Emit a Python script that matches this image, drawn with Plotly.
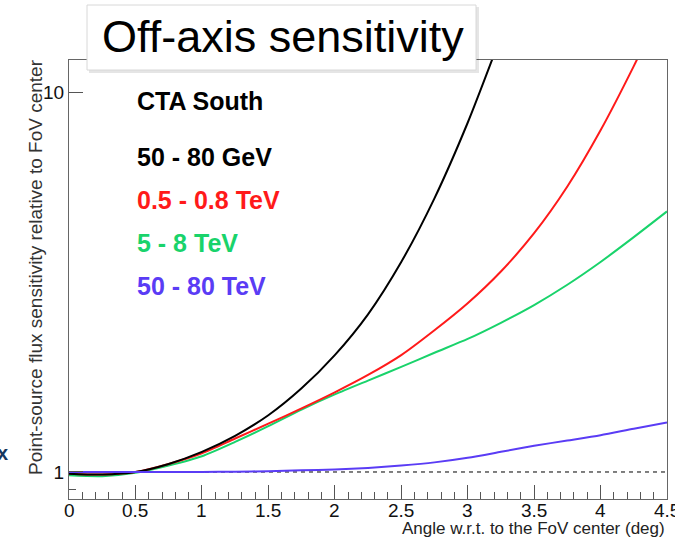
import plotly.graph_objects as go
import math

# ---- data ----
angle = [0.0, 0.25, 0.5, 0.75, 1.0, 1.25, 1.5, 1.75, 2.0, 2.25, 2.5, 2.75, 3.0, 3.25, 3.5, 3.75, 4.0, 4.25, 4.5]

sens_50_80_gev = [0.99, 0.985, 1.0, 1.05, 1.13, 1.245, 1.41, 1.66, 2.03, 2.6, 3.57, 5.25, 8.3, 14.0]
sens_05_08_tev = [0.99, 0.985, 1.0, 1.05, 1.12, 1.225, 1.34, 1.47, 1.62, 1.80, 2.03, 2.36, 2.78, 3.37, 4.25, 5.64, 7.93, 11.7, 17.8]
sens_5_8_tev = [0.98, 0.975, 0.995, 1.04, 1.10, 1.20, 1.32, 1.46, 1.60, 1.74, 1.89, 2.06, 2.24, 2.47, 2.75, 3.11, 3.57, 4.15, 4.85]
sens_50_80_tev = [1.0, 1.0, 1.0, 1.0, 1.0, 1.002, 1.005, 1.01, 1.015, 1.025, 1.04, 1.06, 1.09, 1.13, 1.172, 1.21, 1.25, 1.30, 1.35]

series_names = ["50 - 80 GeV", "0.5 - 0.8 TeV", "5 - 8 TeV", "50 - 80 TeV"]
series_colors = ["#000000", "#ff1a1a", "#19d36b", "#5a3cf5"]

x_ticks = [0, 0.5, 1, 1.5, 2, 2.5, 3, 3.5, 4, 4.5]
x_tick_text = ["0", "0.5", "1", "1.5", "2", "2.5", "3", "3.5", "4", "4.5"]
y_ticks = [1, 10]
y_tick_text = ["1", "10"]

FONT = "Liberation Sans, Arial, Helvetica, sans-serif"

# ---- geometry helpers (pixel -> paper) ----
L, R, T, B = 69, 667, 60, 499
W, H = 675, 538
def px(xp):
    return (xp - L) / (R - L)
def py(yp):
    return (B - yp) / (B - T)

fig = go.Figure()

series = [sens_50_80_gev, sens_05_08_tev, sens_5_8_tev, sens_50_80_tev]
order = [2, 1, 0, 3]
for i in order:
    vals = series[i]
    fig.add_trace(go.Scatter(
        x=angle[:len(vals)], y=vals, mode="lines", name=series_names[i],
        line=dict(color=series_colors[i], width=2, shape="spline", smoothing=0.7),
        showlegend=False, hoverinfo="x+y"))

# reference line at 1
fig.add_shape(type="line", xref="x", yref="y", x0=0, x1=4.5, y0=1, y1=1,
              line=dict(color="#000000", width=1, dash="4px,4px"), layer="below")

# title box with shadow
fig.add_shape(type="rect", xref="paper", yref="paper",
              x0=px(89), x1=px(479), y0=py(73), y1=py(7),
              fillcolor="rgba(0,0,0,0.10)", line=dict(width=0), layer="above")
fig.add_shape(type="rect", xref="paper", yref="paper",
              x0=px(87), x1=px(476), y0=py(70), y1=py(5),
              fillcolor="white", line=dict(color="#d8d8d8", width=1), layer="above")

annotations = [
    dict(text="Off-axis sensitivity", x=px(283), y=py(37), xanchor="center", yanchor="middle",
         font=dict(family=FONT, size=45, color="#000000"), showarrow=False),
    dict(text="<b>CTA South</b>", x=px(135), y=py(101), xanchor="left", yanchor="middle",
         font=dict(family=FONT, size=25, color="#000000"), showarrow=False),
]
legend_y = [157, 200, 243, 286]
for name, col, yy in zip(series_names, series_colors, legend_y):
    annotations.append(dict(text="<b>" + name + "</b>", x=px(135), y=py(yy), xanchor="left", yanchor="middle",
                            font=dict(family=FONT, size=25, color=col), showarrow=False))

# x tick labels placed just below the axis
for tv, tt in zip(x_ticks, x_tick_text):
    annotations.append(dict(text=tt, x=tv, xref="x", y=py(510), yref="paper",
                            xanchor="center", yanchor="middle",
                            font=dict(family=FONT, size=19, color="#111111"), showarrow=False))

annotations += [
    dict(text="Point-source flux sensitivity relative to FoV center", textangle=-90,
         x=px(36), y=py(57), xanchor="center", yanchor="top",
         font=dict(family=FONT, size=19, color="#333333"), showarrow=False),
    dict(text="Angle w.r.t. to the FoV center (deg)", x=px(667), y=py(528), xanchor="right", yanchor="middle",
         font=dict(family=FONT, size=17, color="#222222"), showarrow=False),
    dict(text="<b>x</b>", x=px(2), y=py(453), xanchor="center", yanchor="middle",
         font=dict(family=FONT, size=20, color="#17375e"), showarrow=False),
]
for a in annotations:
    a.setdefault("xref", "paper")
    a.setdefault("yref", "paper")

fig.update_layout(
    width=W, height=H,
    margin=dict(l=L, r=W - R, t=T, b=H - B),
    paper_bgcolor="white", plot_bgcolor="white",
    annotations=annotations,
    xaxis=dict(range=[0, 4.5], tickvals=x_ticks, showticklabels=False,
               ticks="inside", ticklen=14, tickwidth=1, tickcolor="#555555",
               minor=dict(dtick=0.1, ticks="inside", ticklen=7, tickcolor="#555555"),
               showline=True, linecolor="#666666", linewidth=1, mirror=True,
               showgrid=False, zeroline=False),
    yaxis=dict(type="log", range=[math.log10(0.849), math.log10(12.14)],
               tickvals=y_ticks, ticktext=y_tick_text,
               ticks="inside", ticklen=14, tickwidth=1, tickcolor="#555555",
               minor=dict(tickvals=[0.9], ticks="inside", ticklen=7, tickcolor="#555555"),
               showline=True, linecolor="#666666", linewidth=1, mirror=True,
               showgrid=False, zeroline=False,
               tickfont=dict(family=FONT, size=19, color="#111111")),
)

fig.write_html("out.html")
